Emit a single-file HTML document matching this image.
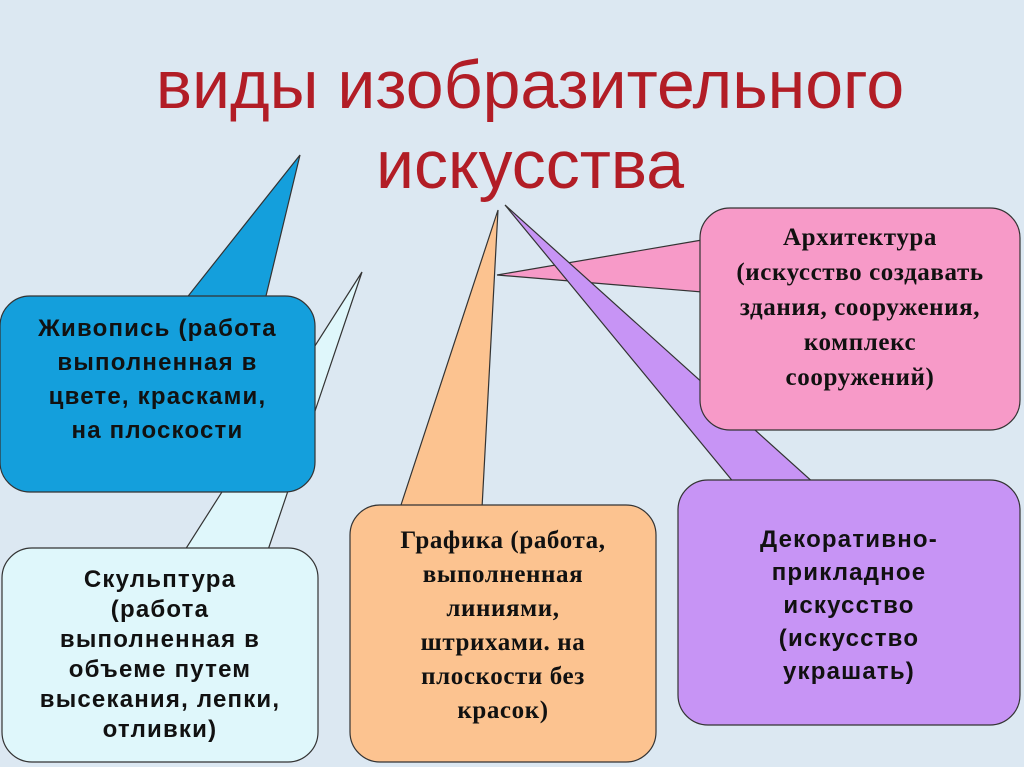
<!DOCTYPE html>
<html><head><meta charset="utf-8"><style>
body{margin:0;width:1024px;height:767px;overflow:hidden;background:#dce8f2;font-family:"Liberation Sans",sans-serif}
.t{position:absolute;left:0;width:1060px;text-align:center;color:#b21d26;font-size:68px;line-height:80px}
.b{position:absolute;display:flex;align-items:center;justify-content:center;text-align:center;font-weight:bold;color:#111;box-sizing:border-box;white-space:nowrap}
.s{font-size:24px;letter-spacing:1.2px}
.r{font-family:'Liberation Serif',serif;font-size:25px;letter-spacing:0.6px}
</style></head><body>
<svg width="1024" height="767" style="position:absolute;left:0;top:0">
<g stroke="#333" stroke-width="1.2">
<polygon points="185,550 268,550 362,272" fill="#dff7fb"/>
<polygon points="185,300 265,300 300,155" fill="#149fdc"/>
<polygon points="400,508 482,508 498,210" fill="#fcc390"/>
<polygon points="702,240 702,292 497,275" fill="#f79ac8"/>
<polygon points="735,484 815,484 505,205" fill="#c794f5"/>
</g>
<rect x="0" y="296" width="315" height="196" rx="30" fill="#149fdc" stroke="#333" stroke-width="1.2"/>
<rect x="2" y="548" width="316" height="214" rx="30" fill="#dff7fb" stroke="#333" stroke-width="1.2"/>
<rect x="350" y="505" width="306" height="257" rx="30" fill="#fcc390" stroke="#333" stroke-width="1.2"/>
<rect x="700" y="208" width="320" height="222" rx="30" fill="#f79ac8" stroke="#333" stroke-width="1.2"/>
<rect x="678" y="480" width="342" height="245" rx="30" fill="#c794f5" stroke="#333" stroke-width="1.2"/>
</svg>
<div class="t" style="top:45px">виды изобразительного</div>
<div class="t" style="top:125px">искусства</div>
<div class="b s" style="left:0;top:300px;width:315px;height:160px;line-height:34px">Живопись (работа<br>выполненная в<br>цвете, красками,<br>на плоскости</div>
<div class="b s" style="left:2px;top:555px;width:316px;height:200px;line-height:30px">Скульптура<br>(работа<br>выполненная в<br>объеме путем<br>высекания, лепки,<br>отливки)</div>
<div class="b r" style="left:350px;top:520px;width:306px;height:212px;line-height:34px">Графика (работа,<br>выполненная<br>линиями,<br>штрихами. на<br>плоскости без<br>красок)</div>
<div class="b r" style="left:700px;top:215px;width:320px;height:185px;line-height:35px">Архитектура<br>(искусство создавать<br>здания, сооружения,<br>комплекс<br>сооружений)</div>
<div class="b s" style="left:678px;top:500px;width:342px;height:210px;line-height:33px">Декоративно-<br>прикладное<br>искусство<br>(искусство<br>украшать)</div>
</body></html>
